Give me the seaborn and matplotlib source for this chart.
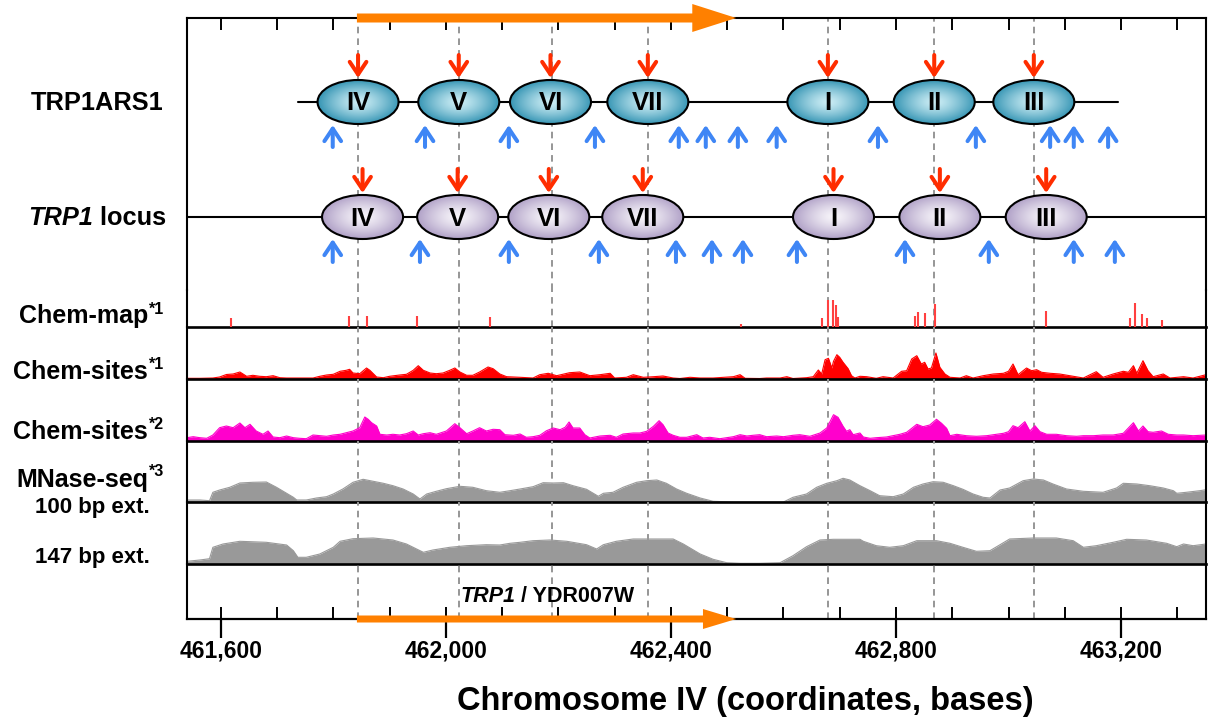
import numpy as np
import matplotlib
matplotlib.use('Agg')
import matplotlib.pyplot as plt
import seaborn as sns
from matplotlib.patches import Ellipse, FancyArrow
from matplotlib.ticker import FixedLocator, MultipleLocator, FuncFormatter

# ---- data (chromosome IV coordinates, bp) ----
X_MIN, X_MAX = 461540, 463351
GENE_START, GENE_END = 461842, 462516

NUC_LABELS = ['IV', 'V', 'VI', 'VII', 'I', 'II', 'III']
ARS_NUC_POS = [461844, 462023, 462186, 462359, 462679, 462868, 463045]
LOCUS_NUC_POS = [461852, 462021, 462183, 462350, 462689, 462878, 463067]
ARS_SPAN = [461738, 463195]
DYAD_LINES = [461844, 462023, 462188, 462359, 462679, 462868, 463045]

ARS_SITES = [461799, 461963, 462112, 462265, 462414, 462462, 462519, 462588,
             462768, 462942, 463074, 463116, 463177]
LOCUS_SITES = [461799, 461954, 462112, 462272, 462409, 462473, 462528, 462624,
               462816, 462965, 463116, 463189]

CHEMMAP_POS = [461618, 461828, 461860, 461949, 462078, 462524, 462668, 462679,
               462688, 462693, 462697, 462834, 462839, 462852, 462869, 463066,
               463216, 463225, 463237, 463246, 463273]
CHEMMAP_VAL = [9, 10.7, 11, 10.7, 9.7, 2.7, 9.3, 26.7, 26.7, 21.7, 10, 11, 15,
               14.3, 22.7, 16, 9.3, 24.3, 12.7, 8.7, 6.7]

CS1_POS = [461540, 461563, 461586, 461598, 461610, 461622, 461634, 461646, 461657,
           461669, 461681, 461693, 461705, 461717, 461740, 461764, 461776, 461788,
           461800, 461812, 461823, 461829, 461835, 461847, 461859, 461865, 461877,
           461889, 461900, 461918, 461930, 461942, 461951, 461960, 461972, 461983,
           461995, 462007, 462016, 462025, 462037, 462048, 462060, 462075, 462084,
           462096, 462108, 462132, 462155, 462167, 462182, 462197, 462220, 462238,
           462256, 462274, 462292, 462300, 462321, 462333, 462351, 462369, 462386,
           462404, 462416, 462434, 462452, 462475, 462511, 462523, 462532, 462558,
           462570, 462594, 462606, 462617, 462641, 462653, 462662, 462668, 462674,
           462680, 462686, 462689, 462695, 462700, 462706, 462715, 462721, 462727,
           462736, 462748, 462765, 462777, 462795, 462810, 462819, 462828, 462837,
           462845, 462851, 462857, 462863, 462871, 462878, 462887, 462896, 462914,
           462925, 462937, 462955, 462973, 462991, 463000, 463008, 463017, 463032,
           463041, 463050, 463059, 463074, 463091, 463109, 463133, 463156, 463168,
           463186, 463204, 463213, 463222, 463228, 463239, 463248, 463257, 463275,
           463287, 463311, 463328, 463351]
CS1_VAL = [0.7, 0.7, 1.0, 2, 4.5, 5, 7, 2.7, 3.7,
           2.7, 2.3, 3.3, 1.3, 1, 1, 1, 2.7, 4,
           4.7, 7.7, 8.7, 9.7, 6, 5.3, 11, 8.7, 2,
           1.3, 2.7, 4, 4.7, 8.7, 13.3, 8.7, 6, 5.3,
           6, 8.7, 11, 7, 3.7, 3.7, 7, 12, 10.3,
           5, 2.3, 1.7, 1, 4.3, 5.7, 3.3, 6.3, 7,
           3.3, 4.3, 5.7, 1, 1.7, 4.3, 1.7, 2.3, 3,
           1, 0.5, 1.7, 1, 1, 2.3, 4.3, 0.7, 0.5,
           1, 1, 2.3, 0.5, 1.3, 2.3, 9, 5, 19.3,
           20.7, 11, 17.7, 24.3, 21.7, 16.7, 10.3, 3.3, 1,
           2.7, 2.3, 0.7, 2.3, 1, 7.7, 8.3, 20, 23.3,
           15, 16.7, 10, 11, 26, 11.7, 5, 1.7, 1,
           3.3, 1, 3.3, 5, 5.7, 7.7, 15, 4.3, 11,
           8.3, 9.3, 6.7, 5.7, 5, 3.3, 1, 7.3, 1.7,
           5, 7.7, 6.7, 13.3, 5.7, 18.3, 8.3, 2.3, 5,
           1, 2.3, 1, 4.3]

CS2_POS = [461540, 461551, 461563, 461575, 461586, 461598, 461610, 461622, 461634,
           461643, 461652, 461663, 461675, 461684, 461693, 461705, 461717, 461729,
           461740, 461752, 461764, 461776, 461788, 461800, 461812, 461823, 461835,
           461847, 461856, 461862, 461868, 461877, 461883, 461895, 461906, 461918,
           461930, 461942, 461951, 461960, 461972, 461983, 462001, 462016, 462025,
           462037, 462048, 462060, 462072, 462084, 462096, 462105, 462120, 462132,
           462143, 462155, 462167, 462179, 462191, 462203, 462212, 462219, 462226,
           462238, 462247, 462256, 462274, 462292, 462303, 462315, 462333, 462345,
           462357, 462369, 462379, 462386, 462395, 462404, 462416, 462428, 462446,
           462457, 462469, 462487, 462511, 462523, 462535, 462546, 462558, 462570,
           462588, 462600, 462617, 462629, 462647, 462665, 462677, 462689, 462697,
           462706, 462712, 462718, 462724, 462736, 462742, 462754, 462765, 462783,
           462795, 462807, 462819, 462828, 462837, 462848, 462860, 462872, 462881,
           462890, 462896, 462908, 462925, 462943, 462961, 462979, 462991, 463000,
           463008, 463017, 463029, 463038, 463047, 463056, 463068, 463085, 463103,
           463121, 463133, 463151, 463168, 463186, 463204, 463222, 463231, 463239,
           463248, 463257, 463272, 463284, 463299, 463311, 463328, 463351]
CS2_VAL = [3.3, 4.3, 3.3, 2.7, 6, 13.3, 15, 13.3, 18,
           13.3, 16.7, 10, 6.7, 10, 4, 3.3, 5, 3.3,
           2.7, 2.3, 6, 5.3, 4.7, 6, 6.7, 8.3, 10,
           13.3, 24, 21.7, 18.3, 15, 6.7, 6, 6.7, 6,
           7.3, 10, 6, 7.3, 8.3, 6.7, 10, 17.3, 13.3,
           7.3, 10, 13.3, 10, 11.7, 11.3, 6.3, 5.7, 7,
           3.7, 4.3, 5.7, 10.3, 13, 11.3, 13.7, 19, 13,
           13, 6.3, 3, 5, 5.7, 3.7, 7, 8, 8,
           9.7, 14.7, 20.3, 16.3, 8, 5.7, 3.7, 3.7, 6.3,
           3, 3.7, 2.3, 4.3, 6.3, 5, 5.7, 6.3, 4.3,
           5, 4.3, 5.7, 6.3, 4.7, 8, 13, 26.3, 23.7,
           14.7, 9.7, 11.3, 6.3, 8, 4, 2.7, 3.3, 4,
           5.3, 6.7, 8.7, 12.7, 16.7, 14.3, 16, 21.7, 17.7,
           12.7, 5.3, 6.7, 5.3, 4.7, 5.3, 6.7, 7.7, 9.3,
           15.3, 13.3, 19.3, 10, 15.3, 9.3, 6.7, 6.7, 5.3,
           4.7, 5.3, 5.3, 6, 6, 7.7, 18.3, 10, 15,
           9.3, 8.7, 10, 6.7, 6, 6, 5.3, 6]

MN100_POS = [461540, 461563, 461580, 461586, 461598, 461616, 461634, 461657, 461681,
             461699, 461717, 461729, 461735, 461752, 461770, 461788, 461800, 461817,
             461835, 461853, 461871, 461889, 461906, 461924, 461942, 461954, 461966,
             461983, 462001, 462025, 462048, 462072, 462096, 462114, 462132, 462155,
             462173, 462191, 462209, 462226, 462250, 462271, 462280, 462297, 462315,
             462339, 462357, 462375, 462392, 462410, 462428, 462452, 462475, 462511,
             462540, 462570, 462600, 462617, 462641, 462659, 462677, 462695, 462706,
             462718, 462736, 462754, 462771, 462795, 462813, 462831, 462848, 462866,
             462884, 462902, 462919, 462937, 462955, 462967, 462985, 463002, 463026,
             463044, 463062, 463079, 463103, 463133, 463168, 463192, 463204, 463228,
             463251, 463275, 463293, 463299, 463316, 463340, 463351]
MN100_VAL = [2, 2, 1.3, 9.7, 12, 14.7, 19, 19.7, 20,
             14.7, 8.7, 4.7, 2, 2, 4, 5.3, 8, 13,
             19.7, 22.7, 20.7, 18.7, 16.3, 13, 8, 3, 8,
             10.7, 13.3, 15.7, 14.7, 11.3, 9.7, 11.3, 13, 15.3,
             19.3, 19, 19.3, 16.3, 12.7, 5.7, 8.7, 9.7, 14.7,
             19.7, 21.3, 22, 18.7, 13, 8.7, 4, 0.7, 0,
             0, 0, 0, 4.7, 8, 14.7, 18.7, 21.3, 23.7,
             22, 16.3, 11.3, 6.3, 5.3, 8, 14.7, 18, 20.3,
             19.7, 16.3, 12.7, 8, 4.7, 4, 12, 14, 21.3,
             23, 22, 18, 13, 10.7, 9.7, 14, 18.7, 18,
             16.3, 14, 11.3, 8.7, 9.7, 11.3, 12.3]

MN147_POS = [461540, 461563, 461580, 461586, 461604, 461634, 461681, 461717, 461729,
             461737, 461752, 461776, 461800, 461812, 461835, 461871, 461906, 461930,
             461948, 461960, 461977, 462007, 462037, 462072, 462096, 462114, 462132,
             462155, 462185, 462215, 462250, 462268, 462280, 462303, 462333, 462363,
             462404, 462422, 462452, 462475, 462499, 462523, 462558, 462594, 462617,
             462641, 462665, 462689, 462712, 462736, 462742, 462765, 462789, 462813,
             462837, 462872, 462896, 462919, 462943, 462967, 462985, 463002, 463044,
             463085, 463115, 463133, 463156, 463186, 463210, 463245, 463281, 463299,
             463311, 463328, 463351]
MN147_VAL = [2.7, 4, 5.3, 16.7, 20, 22.7, 21.7, 19, 13.3,
             6.7, 6.7, 10, 16.7, 22.7, 25.3, 26, 24, 20,
             15, 11.7, 14, 16.7, 18.3, 19.3, 19, 20.7, 21.7,
             23.3, 24, 22.7, 19.3, 15, 19.3, 22.7, 25, 25,
             25, 20, 10, 4.7, 1.3, 0.7, 0.7, 1.3, 8.3,
             17.3, 24, 24.7, 24.7, 24.7, 22.7, 18.3, 16.7, 18.3,
             23.3, 23.3, 20.7, 16.7, 12.7, 13.3, 19.3, 25, 26,
             26, 23.3, 16.7, 18.3, 21.7, 24.7, 24, 20.7, 17.3,
             20, 18.3, 20]

# ---- style ----
sns.set_style('white')
plt.rcParams['font.family'] = ['Liberation Sans', 'DejaVu Sans']
plt.rcParams['font.weight'] = 'bold'
plt.rcParams['text.color'] = 'black'
plt.rcParams['xtick.color'] = 'black'
plt.rcParams['axes.edgecolor'] = 'black'

W, H = 1210, 717
FRAME_L, FRAME_R = 187, 1206
RED, BLUE, ORANGE = '#ff2d00', '#3f86f5', '#ff8000'
TEAL_EDGE, TEAL_MID = np.array([0.22, 0.59, 0.71]), np.array([0.80, 0.93, 0.96])
LILAC_EDGE, LILAC_MID = np.array([0.69, 0.63, 0.78]), np.array([0.97, 0.96, 0.98])

fig = plt.figure(figsize=(W / 100, H / 100), dpi=100)


def fx(x):
    return x / W


def fy(y):
    return 1 - y / H


def add_track(y_top, y_bot, sep=True):
    ax = fig.add_axes([fx(FRAME_L), fy(y_bot), (FRAME_R - FRAME_L) / W, (y_bot - y_top) / H])
    ax.patch.set_alpha(0)
    for s in ['left', 'right']:
        ax.spines[s].set_linewidth(1.5)
        ax.spines[s].set_color('black')
    ax.spines['top'].set_visible(False)
    ax.spines['bottom'].set_visible(sep)
    ax.spines['bottom'].set_linewidth(1.9)
    ax.spines['bottom'].set_color('black')
    ax.tick_params(left=False, labelleft=False, bottom=False, labelbottom=False)
    for x in DYAD_LINES:
        ax.axvline(x, color='#969696', ls=(0, (3.4, 2.6)), lw=1.4, zorder=1)
    return ax


ax_diag = add_track(18, 290, sep=False)
ax_map = add_track(290, 327)
ax_cs1 = add_track(327, 379)
ax_cs2 = add_track(379, 441)
ax_m100 = add_track(441, 502)
ax_m147 = add_track(502, 564)
ax_gene = add_track(564, 619)

# ---- nucleosome diagram ----
ax_diag.spines['top'].set_visible(True)
ax_diag.spines['top'].set_linewidth(1.5)
ax_diag.spines['top'].set_color('black')
ax_diag.xaxis.set_ticks_position('top')
ax_diag.xaxis.set_major_locator(MultipleLocator(100))
ax_diag.tick_params(axis='x', top=True, labeltop=False, direction='in', length=8.6, width=1.4)

ARS_Y, LOCUS_Y = 102, 217
NUC_W, NUC_H = 144, 44


def nucleosome(ax, cx, cy, label, edge, mid):
    ell = Ellipse((cx, cy), NUC_W, NUC_H, facecolor='none', edgecolor='black', lw=1.5, zorder=4)
    ax.add_patch(ell)
    u = np.linspace(-1, 1, 80)
    uu, vv = np.meshgrid(u, u)
    r = np.clip(np.sqrt(uu ** 2 + vv ** 2), 0, 1) ** 1.3
    img = mid[None, None, :] * (1 - r[..., None]) + edge[None, None, :] * r[..., None]
    im = ax.imshow(img, extent=(cx - NUC_W / 2, cx + NUC_W / 2, cy + NUC_H / 2, cy - NUC_H / 2),
                   aspect='auto', zorder=3, interpolation='bilinear')
    im.set_clip_path(ell)
    ax.text(cx, cy + 8.5, label, ha='center', va='baseline', fontsize=18.5, fontweight='bold',
            color='black', zorder=5)


def site_arrow(ax, x, y_from, y_to, color):
    ax.annotate('', xy=(x, y_to), xytext=(x, y_from),
                arrowprops=dict(arrowstyle='->,head_length=0.45,head_width=0.3', color=color,
                                lw=2.9, shrinkA=0, shrinkB=0, mutation_scale=20), zorder=6)


ax_diag.plot(ARS_SPAN, [ARS_Y, ARS_Y], color='black', lw=1.5, zorder=2)
ax_diag.axhline(LOCUS_Y, color='black', lw=1.5, zorder=2)
for lab, x in zip(NUC_LABELS, ARS_NUC_POS):
    nucleosome(ax_diag, x, ARS_Y, lab, TEAL_EDGE, TEAL_MID)
    site_arrow(ax_diag, x, 55, 78, RED)
for lab, x in zip(NUC_LABELS, LOCUS_NUC_POS):
    nucleosome(ax_diag, x, LOCUS_Y, lab, LILAC_EDGE, LILAC_MID)
    site_arrow(ax_diag, x, 169, 193, RED)
for x in ARS_SITES:
    site_arrow(ax_diag, x, 147, 125, BLUE)
for x in LOCUS_SITES:
    site_arrow(ax_diag, x, 262, 239, BLUE)

ax_diag.add_patch(FancyArrow(GENE_START, 18, GENE_END - GENE_START, 0, width=9, head_width=28,
                             head_length=78, length_includes_head=True, color=ORANGE,
                             lw=0, clip_on=False, zorder=7))
ax_diag.set_xlim(X_MIN, X_MAX)
ax_diag.set_ylim(290, 18)

# ---- signal tracks ----
ax_map.vlines(CHEMMAP_POS, 0, CHEMMAP_VAL, color='#ff4040', lw=1.5, zorder=3)
ax_map.set_ylim(0, 37)

for ax, pos, val, col, top in [(ax_cs1, CS1_POS, CS1_VAL, '#ff0000', 52),
                               (ax_cs2, CS2_POS, CS2_VAL, '#ff00cc', 62),
                               (ax_m100, MN100_POS, MN100_VAL, '#999999', 61),
                               (ax_m147, MN147_POS, MN147_VAL, '#999999', 62)]:
    ax.fill_between(pos, val, 0, color=col, lw=0, zorder=2)
    sns.lineplot(x=pos, y=val, color=col, lw=0.8, ax=ax, zorder=2)
    ax.set_ylim(0, top)
    ax.set_xlabel('')
    ax.set_ylabel('')

for ax in [ax_map, ax_cs1, ax_cs2, ax_m100, ax_m147, ax_gene]:
    ax.set_xlim(X_MIN, X_MAX)
    ax.tick_params(bottom=False, labelbottom=False)

# ---- gene track / coordinate axis ----
ax_gene.set_ylim(619, 564)
ax_gene.spines['bottom'].set_linewidth(1.6)
ax_gene.xaxis.set_major_locator(FixedLocator([461600, 462000, 462400, 462800, 463200]))
ax_gene.xaxis.set_minor_locator(MultipleLocator(100))
ax_gene.xaxis.remove_overlapping_locs = False
ax_gene.xaxis.set_major_formatter(FuncFormatter(lambda v, p: f'{int(v):,}'))
ax_gene.tick_params(axis='x', which='major', bottom=True, labelbottom=True, direction='out',
                    length=13.5, width=1.6, pad=1.5, labelsize=16.5, colors='black')
ax_gene.tick_params(axis='x', which='minor', bottom=True, direction='in', length=8.6, width=1.4)
for t in ax_gene.get_xticklabels():
    t.set_fontweight('bold')
ax_gene.add_patch(FancyArrow(GENE_START, 619, GENE_END - GENE_START, 0, width=7, head_width=20,
                             head_length=59, length_includes_head=True, color=ORANGE,
                             lw=0, clip_on=False, zorder=7))

# ---- text ----
renderer = fig.canvas.get_renderer()
t1 = fig.text(fx(460), fy(601.5), 'TRP1', ha='left', va='baseline', fontsize=15.5,
              fontweight='bold', fontstyle='italic')
bb = t1.get_window_extent(renderer)
fig.text(bb.x1 / W, fy(601.5), ' / YDR007W', ha='left', va='baseline', fontsize=15.5,
         fontweight='bold')

fig.text(fx(164), fy(110.5), 'TRP1ARS1', ha='right', va='baseline', fontsize=18.3, fontweight='bold')
t2 = fig.text(fx(166), fy(225), ' locus', ha='right', va='baseline', fontsize=18.3, fontweight='bold')
bb = t2.get_window_extent(renderer)
fig.text(bb.x0 / W, fy(225), 'TRP1', ha='right', va='baseline', fontsize=18.3,
         fontweight='bold', fontstyle='italic')

for main, sup, base in [('Chem-map', '*1', 323.5), ('Chem-sites', '*1', 379),
                        ('Chem-sites', '*2', 439), ('MNase-seq', '*3', 486.5)]:
    fig.text(fx(148), fy(base), main, ha='right', va='baseline', fontsize=18, fontweight='bold')
    fig.text(fx(149), fy(base - 10), sup, ha='left', va='baseline', fontsize=11.5, fontweight='bold')
fig.text(fx(150), fy(512.5), '100 bp ext.', ha='right', va='baseline', fontsize=16, fontweight='bold')
fig.text(fx(150), fy(562.5), '147 bp ext.', ha='right', va='baseline', fontsize=16, fontweight='bold')

fig.text(fx(745), fy(710), 'Chromosome IV (coordinates, bases)', ha='center', va='baseline',
         fontsize=23.5, fontweight='bold')

fig.savefig('out.png', dpi=100)
